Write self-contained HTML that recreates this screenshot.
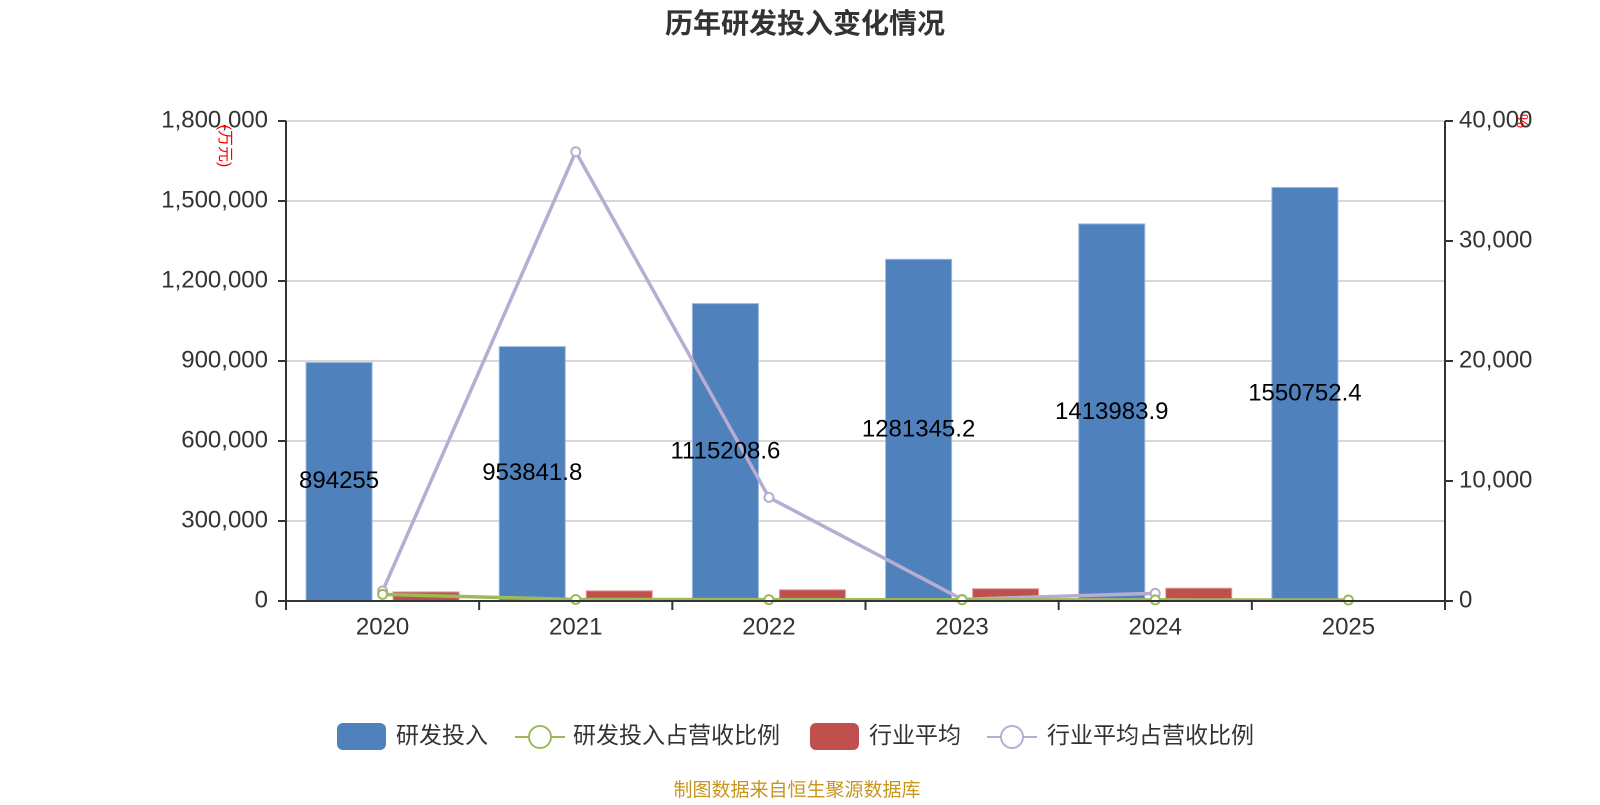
<!DOCTYPE html>
<html><head><meta charset="utf-8"><style>
body{margin:0;background:#fff;width:1600px;height:800px;overflow:hidden}
svg{font-family:"Liberation Sans","Noto Sans CJK SC",sans-serif}
</style></head><body>
<svg id="chart" width="1600" height="800">
<text x="805" y="33" text-anchor="middle" font-size="28" font-weight="bold" fill="#333">历年研发投入变化情况</text>
<g id="grid"></g><g id="bars"></g><g id="lines"></g><g id="axes"></g><g id="labels"></g>
<text transform="translate(224,146) rotate(90)" text-anchor="middle" dominant-baseline="middle" font-size="16" fill="red">(万元)</text>
<text transform="translate(1521,121) rotate(90)" text-anchor="middle" dominant-baseline="middle" font-size="16" fill="red">%</text>
<g>
<g><rect x="337" y="723" width="49" height="27" rx="6" fill="#4f81bd"/><text x="396" y="737" dominant-baseline="middle" font-size="23" fill="#333">研发投入</text></g>
<g><line x1="515" y1="737" x2="565" y2="737" stroke="#9bbb59" stroke-width="2"/><circle cx="540" cy="737" r="11" fill="#fff" stroke="#9bbb59" stroke-width="2"/><text x="573" y="737" dominant-baseline="middle" font-size="23" fill="#333">研发投入占营收比例</text></g>
<g><rect x="810" y="723" width="49" height="27" rx="6" fill="#c0504d"/><text x="869" y="737" dominant-baseline="middle" font-size="23" fill="#333">行业平均</text></g>
<g><line x1="987" y1="737" x2="1037" y2="737" stroke="#b8acd3" stroke-width="2"/><circle cx="1012" cy="737" r="11" fill="#fff" stroke="#b8acd3" stroke-width="2"/><text x="1047" y="737" dominant-baseline="middle" font-size="23" fill="#333">行业平均占营收比例</text></g>
</g>
<text x="797" y="791" text-anchor="middle" dominant-baseline="middle" font-size="19" fill="#c8961e">制图数据来自恒生聚源数据库</text>
</svg>
<script>
const categories=["2020","2021","2022","2023","2024","2025"];
const rdValues=[894255,953841.8,1115208.6,1281345.2,1413983.9,1550752.4];
const rdLabels=["894255","953841.8","1115208.6","1281345.2","1413983.9","1550752.4"];
const industryAvg=[34000,38000,42000,46000,48000,null];
const rdRatio=[550,130,110,100,90,80];
const industryRatio=[833,37433,8633,140,640,null];
const leftTicks=[0,300000,600000,900000,1200000,1500000,1800000];
const rightTicks=[0,10000,20000,30000,40000];

const NS="http://www.w3.org/2000/svg";
const X0=286,X1=1445,Y0=601,Y1=121;
const band=(X1-X0)/categories.length;
const yL=v=>Y0-(v/1800000)*(Y0-Y1);
const yR=v=>Y0-(v/40000)*(Y0-Y1);
const xc=i=>X0+band*(i+0.5);
function mk(tag,attrs,parent,text){const e=document.createElementNS(NS,tag);for(const k in attrs)e.setAttribute(k,attrs[k]);if(text!==undefined)e.textContent=text;document.getElementById(parent).appendChild(e);return e;}
const fmt=v=>v.toLocaleString("en-US");
leftTicks.forEach(t=>{
  const y=yL(t);
  if(t>0){const g=mk("line",{x1:X0,x2:X1,y1:y,y2:y,stroke:"#ccc","stroke-width":1.5},"grid");
  
  }
  mk("line",{x1:X0-8,x2:X0,y1:y,y2:y,stroke:"#333","stroke-width":2},"axes");
  const l=mk("text",{x:268,y:y,"text-anchor":"end","dominant-baseline":"middle","font-size":24,fill:"#333"},"axes",fmt(t));
  
  
});
rightTicks.forEach(t=>{
  const y=yR(t);
  mk("line",{x1:X1,x2:X1+8,y1:y,y2:y,stroke:"#333","stroke-width":2},"axes");
  const l=mk("text",{x:1459,y:y,"font-size":24,"dominant-baseline":"middle",fill:"#333"},"axes",fmt(t));
  
  
});
mk("line",{x1:X0,x2:X0,y1:Y1,y2:Y0,stroke:"#333","stroke-width":2},"axes");
mk("line",{x1:X1,x2:X1,y1:Y1,y2:Y0,stroke:"#333","stroke-width":2},"axes");
mk("line",{x1:X0,x2:X1,y1:Y0,y2:Y0,stroke:"#333","stroke-width":2},"axes");
for(let i=0;i<=categories.length;i++){const x=X0+band*i;mk("line",{x1:x,x2:x,y1:Y0,y2:Y0+9,stroke:"#333","stroke-width":2},"axes");}
categories.forEach((c,i)=>{
  const l=mk("text",{x:xc(i),y:628,"text-anchor":"middle","dominant-baseline":"middle","font-size":24,fill:"#333"},"axes",c);
  
  
  const bw=66;
  const b=mk("rect",{x:xc(i)-10.5-bw,y:yL(rdValues[i]),width:bw,height:Y0-yL(rdValues[i]),fill:"#4f81bd",stroke:"#9ab6dc","stroke-width":1},"bars");
  
  
  if(industryAvg[i]!=null){
    const r=mk("rect",{x:xc(i)+10.5,y:yL(industryAvg[i]),width:bw,height:Y0-yL(industryAvg[i]),fill:"#c0504d",stroke:"#e29a98","stroke-width":1},"bars");
    
    
  }
  const t=mk("text",{x:xc(i)-10.5-bw/2,y:(yL(rdValues[i])+Y0)/2,"text-anchor":"middle","dominant-baseline":"middle","font-size":24,fill:"#000"},"labels",rdLabels[i]);
  
  
});
function series(vals,color,name){
  const pts=[];vals.forEach((v,i)=>{if(v!=null)pts.push([xc(i),yR(v)]);});
  const p=mk("polyline",{points:pts.map(p=>p.join(",")).join(" "),fill:"none",stroke:color,"stroke-width":3.5},"lines");
  
  
  pts.forEach(q=>{const c=mk("circle",{cx:q[0],cy:q[1],r:4.5,fill:"#fff",stroke:color,"stroke-width":2},"lines");
  
  });
}
series(industryRatio,"#b8acd3","industry-ratio");
series(rdRatio,"#9bbb59","rd-ratio");
</script>
</body></html>
